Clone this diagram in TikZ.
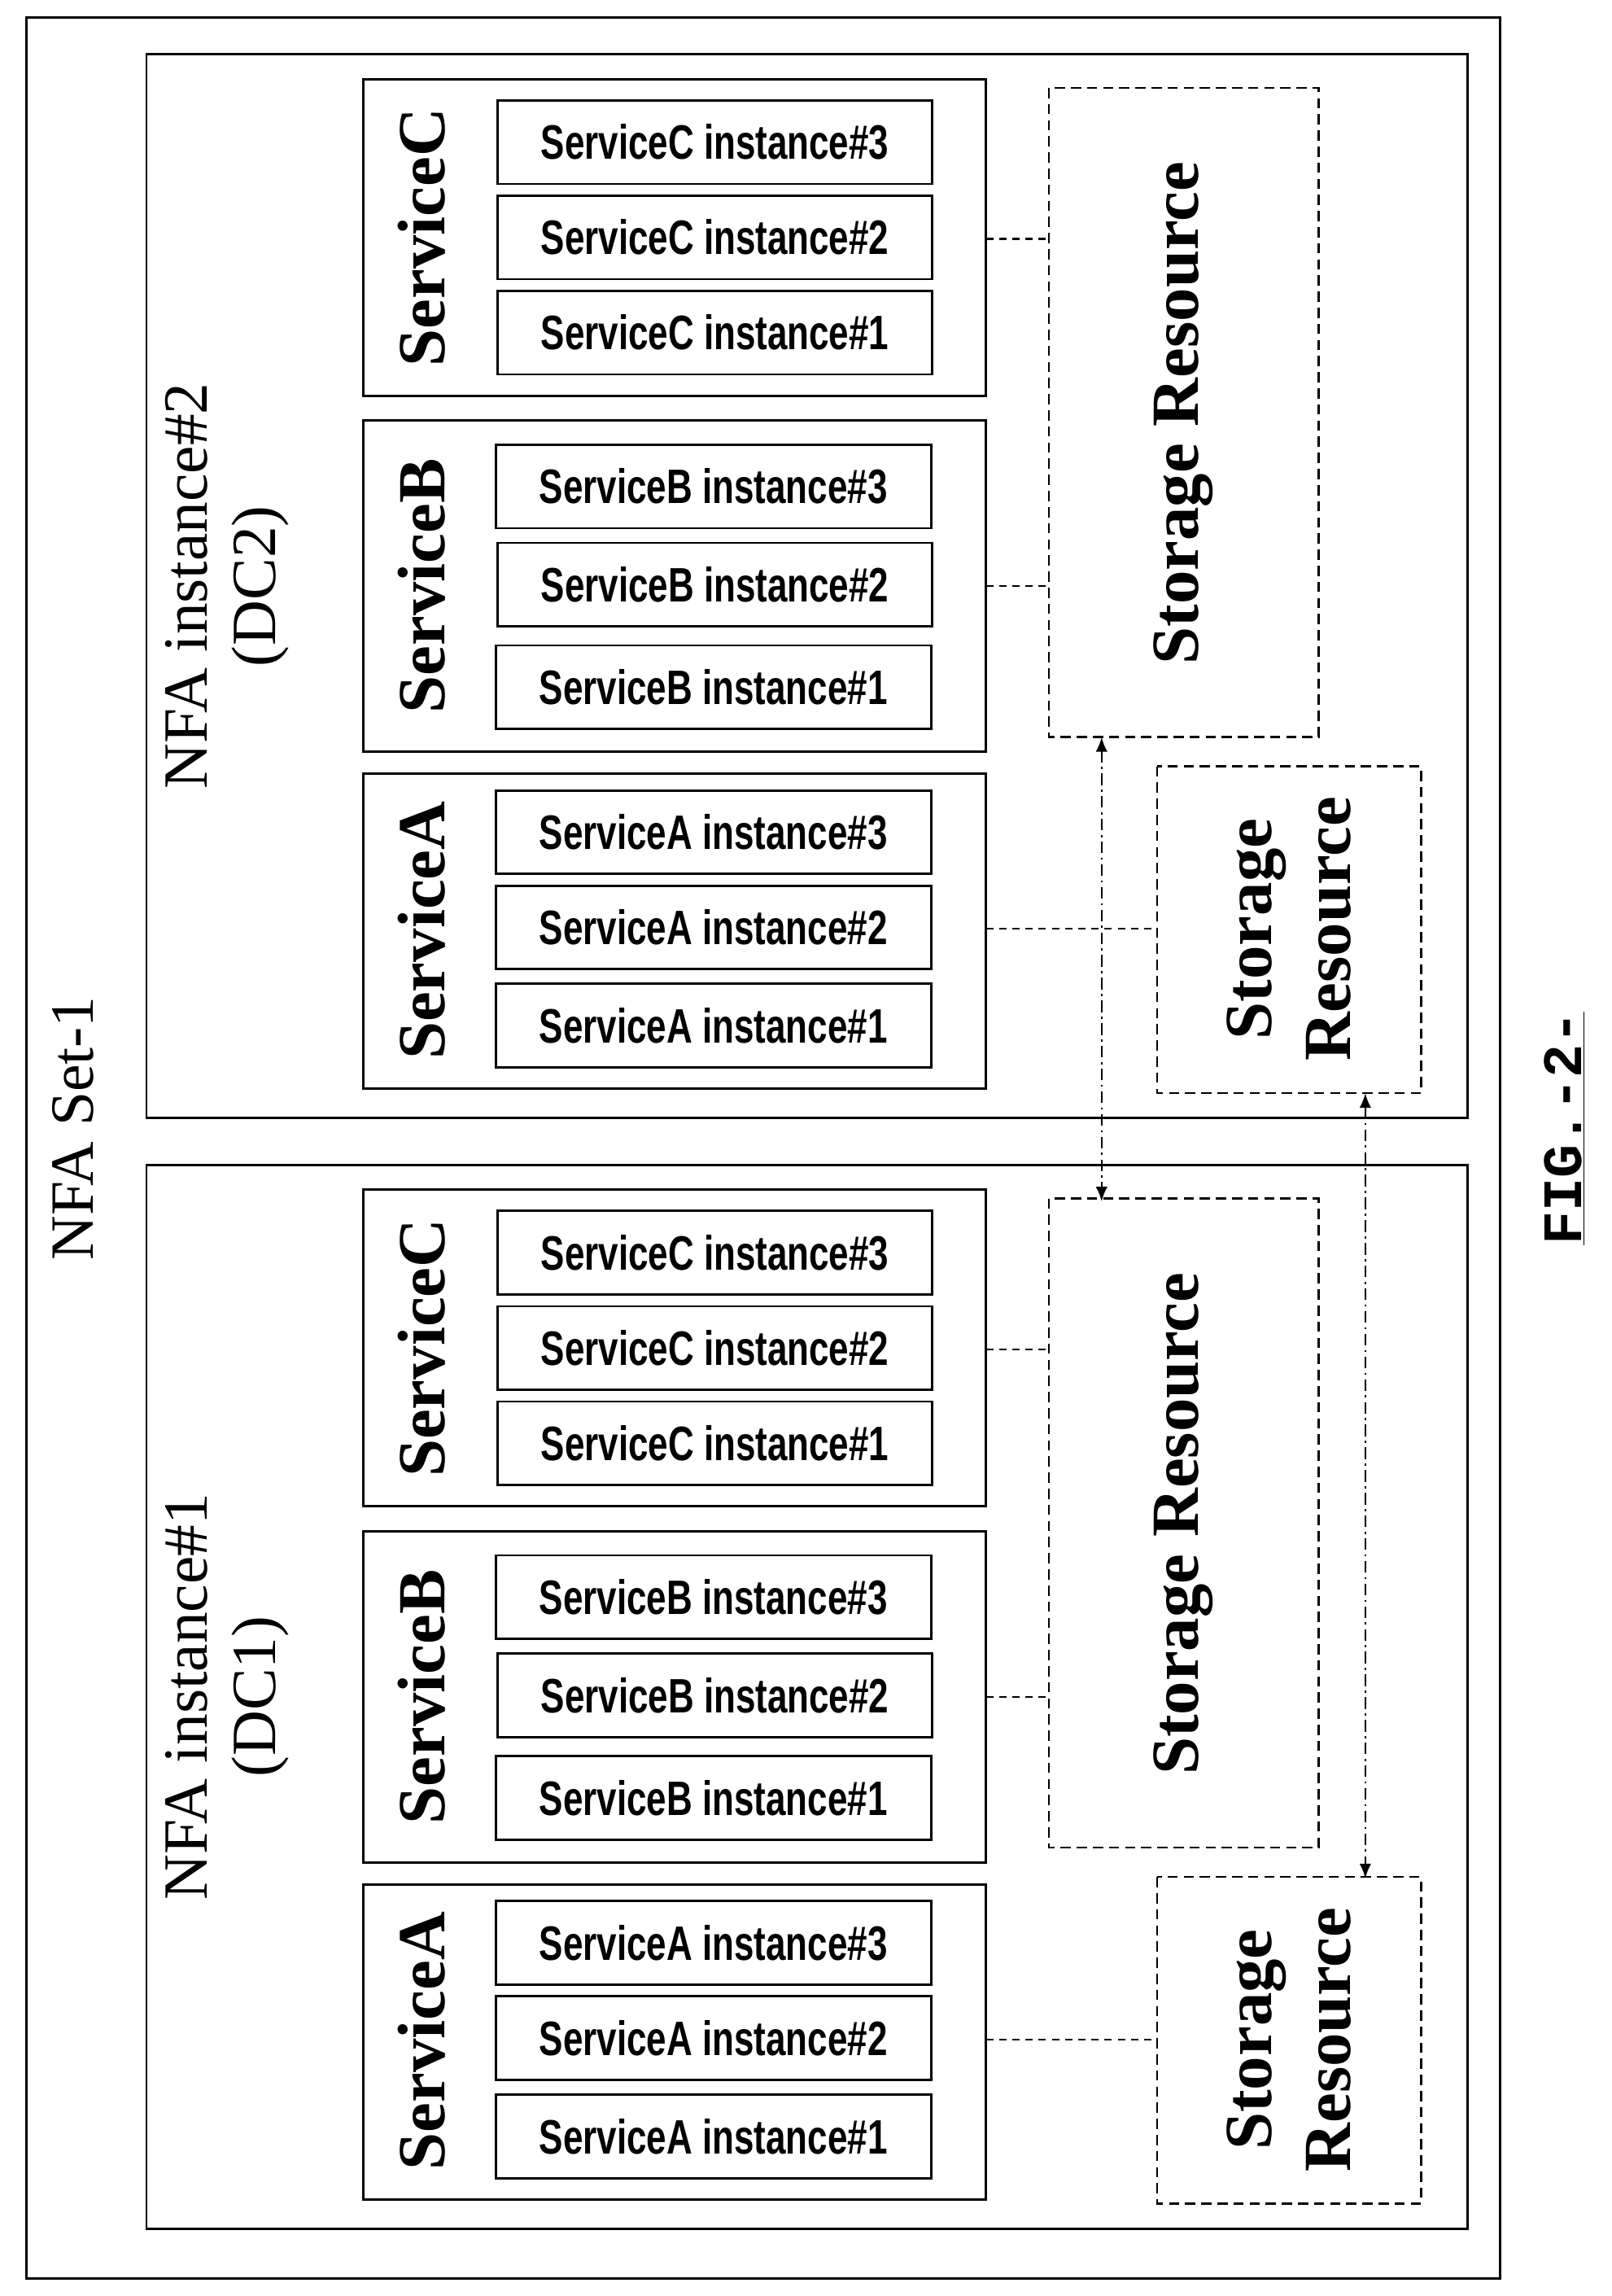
\documentclass[tikz,border=0pt]{standalone}
\usepackage{fontspec}
\setmainfont{Liberation Serif}
\newfontfamily\narrowsans{Liberation Sans}
\newfontfamily\monofig{Liberation Mono}
\usetikzlibrary{arrows.meta}
\newcommand\instlabel[1]{\scalebox{0.74}[1]{\narrowsans\bfseries\fontsize{33}{33}\selectfont #1}}
\tikzset{
 frame/.style={draw,line width=1.6pt},
 inst/.style={draw,line width=1.6pt,minimum width=297pt,minimum height=57pt,inner sep=0pt},
 svc/.style={rotate=90,font=\bfseries\fontsize{46}{46}\selectfont},
 stor/.style={draw,dashed,line width=1.4pt,dash pattern=on 7pt off 4pt},
 stortext/.style={rotate=90,font=\bfseries\fontsize{46}{54}\selectfont,align=center},
 link/.style={line width=1.2pt,dash pattern=on 5pt off 4pt},
 ddot/.style={line width=1.4pt,dash pattern=on 8pt off 3pt on 1.5pt off 3pt,{Latex[length=10pt,width=8pt]}-{Latex[length=10pt,width=8pt]}},
}
\newcommand\dcblock[3]{%
\begin{scope}[shift={(0,#2)}]
\draw[frame] (100,37) rectangle (1002,763);
\node[rotate=90,align=center,font=\fontsize{43}{47}\selectfont] (nfa#1) at (155,400) {NFA instance\##3\\(DC#3)};
\draw[frame] (248,54) rectangle (673,270) coordinate (sc#1);
\draw[frame] (248,287) rectangle (673,513);
\draw[frame] (248,528) rectangle (673,743);
\node[svc] (lc#1) at (288,162) {ServiceC};
\node[svc] (lb#1) at (288,400) {ServiceB};
\node[svc] (la#1) at (288,635) {ServiceA};
\node[inst] (c3#1) at (488,97) {\instlabel{ServiceC instance\#3}};
\node[inst] (c2#1) at (488,162) {\instlabel{ServiceC instance\#2}};
\node[inst] (c1#1) at (488,227) {\instlabel{ServiceC instance\#1}};
\node[inst] (b3#1) at (487,332) {\instlabel{ServiceB instance\#3}};
\node[inst] (b2#1) at (488,399) {\instlabel{ServiceB instance\#2}};
\node[inst] (b1#1) at (487,469) {\instlabel{ServiceB instance\#1}};
\node[inst] (a3#1) at (487,568) {\instlabel{ServiceA instance\#3}};
\node[inst] (a2#1) at (487,633) {\instlabel{ServiceA instance\#2}};
\node[inst] (a1#1) at (487,700) {\instlabel{ServiceA instance\#1}};
\draw[stor] (716,60) rectangle (900,503);
\node[stortext] (sb#1) at (808,282) {Storage Resource};
\draw[stor] (790,523) rectangle (970,746);
\node[stortext] (ss#1) at (880,634) {Storage\\Resource};
\coordinate (sbl#1) at (716,163);
\coordinate (sbl2#1) at (716,400);
\coordinate (ssl#1) at (790,634);
\coordinate (scr#1) at (673,163);
\coordinate (sbr#1) at (673,400);
\coordinate (sar#1) at (673,634);
\draw[link] (scr#1) -- (sbl#1);
\draw[link] (sbr#1) -- (sbl2#1);
\draw[link] (sar#1) -- (ssl#1);
\end{scope}}
\begin{document}
\begin{tikzpicture}[x=1pt,y=-1pt]
\useasboundingbox (0,0) rectangle (1100,1567);
\draw[frame] (18,12) rectangle (1024,1555);
\node[rotate=90,font=\fontsize{42}{46}\selectfont] (set) at (50,770) {NFA Set-1};
\dcblock{x}{0}{2}
\dcblock{y}{758}{1}
\coordinate (u1) at (752,503);
\coordinate (u2) at (752,820);
\coordinate (v1) at (932,746);
\coordinate (v2) at (932,1282);
\draw[ddot] (u1) -- (u2);
\draw[ddot] (v1) -- (v2);
\node[rotate=90,font=\monofig\bfseries\fontsize{38}{38}\selectfont] (fig) at (1068,770) {\underline{FIG.-2-}};
\end{tikzpicture}
\end{document}
